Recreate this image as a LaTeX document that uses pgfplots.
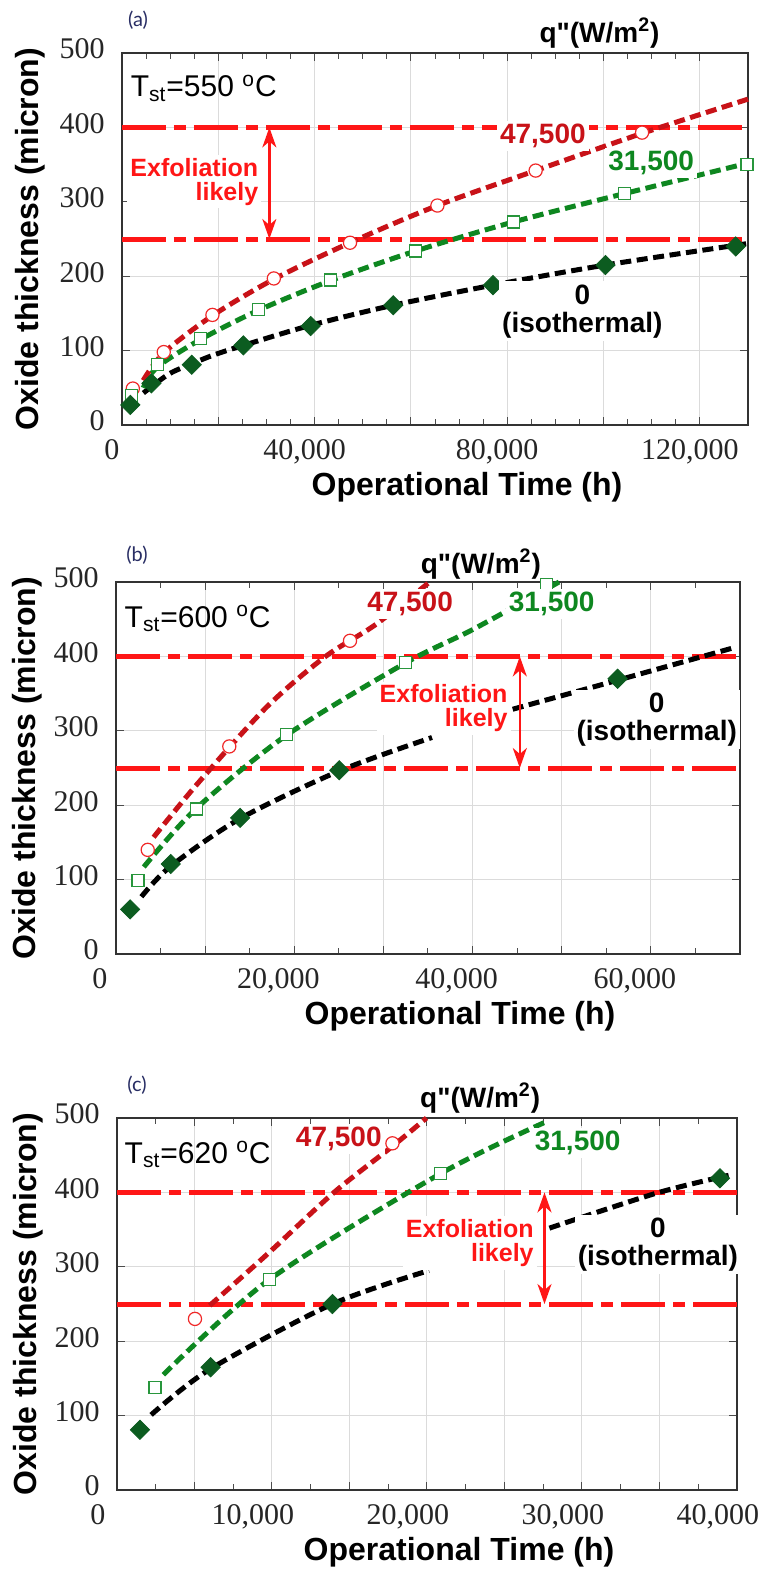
\documentclass[border=0pt]{standalone}
\usepackage{fontspec}
\setmainfont{Liberation Sans}
\newfontfamily\tickfont{Liberation Serif}
\newfontfamily\qfont{Liberation Sans}[Ligatures=TeXOff]
\newfontfamily\panelfont{Lato}
\usepackage{pgfplots}
\pgfplotsset{compat=1.18}
\usetikzlibrary{arrows.meta}

\definecolor{hotred}{RGB}{200,18,24}
\definecolor{circred}{RGB}{240,40,40}
\definecolor{midgreen}{RGB}{14,135,32}
\definecolor{sqgreen}{RGB}{40,150,60}
\definecolor{diamondgreen}{RGB}{12,92,32}
\definecolor{exred}{RGB}{255,22,22}
\definecolor{panelblue}{RGB}{40,45,100}

\pgfplotsset{
  oxide/.style={
    scale only axis, clip=false,
    scaled x ticks=false, scaled y ticks=false,
    ymin=0, ymax=500, ytick={0,100,...,500},
    yticklabels={0,100,200,300,400,500},
    grid=major, major grid style={gray!28, line width=0.5pt},
    axis line style={line width=0.9pt, black!80},
    tick align=inside, major tick length=4pt, minor tick length=3pt,
    every tick/.style={black!70, line width=0.5pt},
    ticklabel style={font=\tickfont\fontsize{15}{16}\selectfont, text=black!85, inner sep=0pt},
    yticklabel style={anchor=east, xshift=-8.5pt, yshift=2pt},
    xlabel={Operational Time (h)},
    ylabel={Oxide thickness (micron)},
    label style={font=\bfseries\fontsize{16}{18}\selectfont},
    xlabel style={at={([xshift=16pt,yshift=-31pt]axis description cs:0.5,0)}, anchor=center},
  },
  fit/.style={line width=2.5pt, dash pattern=on 5.5pt off 2.8pt, smooth, tension=0.5, mark=none},
  exfol/.style={exred, line width=2.5pt, dash pattern=on 22pt off 4pt on 6pt off 4pt, mark=none},
  circ/.style={only marks, mark=*, mark size=3.3pt,
    mark options={draw=circred, fill=white, line width=0.6pt}},
  sq/.style={only marks, mark=square*, mark size=3pt,
    mark options={draw=sqgreen, fill=white, line width=0.6pt}},
  dia/.style={only marks, mark=square*, mark size=3.4pt,
    mark options={rotate=45, draw=diamondgreen, fill=diamondgreen}},
}
\tikzset{
  flux/.style={font=\bfseries\fontsize{14}{14}\selectfont, fill=white, inner sep=1.5pt},
  iso/.style={font=\bfseries\fontsize{14}{14}\selectfont, fill=white, inner sep=1.5pt, align=center},
  exlab/.style={font=\bfseries\fontsize{12.5}{12}\selectfont, text=exred, fill=white, inner sep=1.5pt, align=right, anchor=east},
  tst/.style={font=\fontsize{15}{15}\selectfont, anchor=base west, inner sep=0pt},
  qlab/.style={font=\qfont\bfseries\fontsize{14}{14}\selectfont, anchor=center},
  plab/.style={font=\panelfont\fontsize{10}{10}\selectfont, text=panelblue, anchor=center},
  exarrow/.style={exred, line width=1.2pt, {Stealth[length=10pt,width=7pt,inset=3pt]}-{Stealth[length=10pt,width=7pt,inset=3pt]}},
}

\begin{document}
\begin{tikzpicture}
\fill[white] (0,0) rectangle (383pt,-788pt);
\useasboundingbox (0,0) rectangle (383pt,-788pt);

% ---------------- (a) T_st = 550 C ----------------
\begin{axis}[oxide, at={(61pt,-212.5pt)}, anchor=south west,
  width=313pt, height=186pt,
  xmin=0, xmax=130000, xtick={0,20000,...,120000},
  xticklabels={0,,{40,000},,{80,000},,{120,000}},
  minor x tick num=3,
  xticklabel style={anchor=north, yshift=-7pt, xshift=-5pt},
  ylabel style={at={([xshift=-46pt]axis description cs:0,0.5)}, anchor=center},
]
\addplot[exfol] coordinates {(0,400) (130000,400)};
\addplot[exfol] coordinates {(0,250) (130000,250)};
\addplot[fit, black] coordinates {(4440,43) (9600,68) (14000,81) (19000,94) (25200,107) (39180,134) (56330,161) (77040,188) (100400,215) (130000,244)};
\addplot[fit, midgreen] coordinates {(4400,50) (7350,78) (16330,115) (28270,154) (43270,194) (61020,234) (81330,273) (104290,311) (130000,352)};
\addplot[fit, hotred] coordinates {(4400,60) (8670,97) (18780,147) (31530,196) (47350,245) (65500,295) (85900,342) (108000,392) (130000,438)};
\addplot[circ] coordinates {(2245,49) (8670,98) (18780,148) (31530,197) (47350,245) (65500,295) (85900,342) (108000,393)};
\addplot[sq] coordinates {(2040,40) (7350,81) (16330,116) (28270,155) (43270,195) (61020,234) (81330,273) (104290,311) (129800,350)};
\addplot[dia] coordinates {(1735,27) (6120,56) (14490,81) (25200,107) (39180,133) (56330,161) (77040,188) (100400,215) (127450,240)};
\coordinate (a-r) at (axis cs:87400,389);
\coordinate (a-g) at (axis cs:109900,352);
\coordinate (a-k) at (axis cs:95600,153);
\coordinate (a-ex) at (axis cs:29000,327);
\coordinate (a-up) at (axis cs:30600,400);
\coordinate (a-lo) at (axis cs:30600,250);
\coordinate (a-t) at (axis cs:1735,441);
\coordinate (a-q) at (axis cs:99170,500);
\end{axis}
\node[flux, text=hotred] at (a-r) {47,500};
\node[flux, text=midgreen] at (a-g) {31,500};
\node[iso] at (a-k) {0\\(isothermal)};
\node[exlab] at (a-ex) {Exfoliation\\likely};
\draw[exarrow] (a-up) -- (a-lo);
\node[tst] at (a-t) {T\textsubscript{st}=550 \textsuperscript{o}C};
\node[qlab, yshift=10pt] at (a-q) {q"(W/m\textsuperscript{2})};
\node[plab] at (69pt,-10pt) {(a)};

% ---------------- (b) T_st = 600 C ----------------
\begin{axis}[oxide, at={(58pt,-477pt)}, anchor=south west,
  width=312pt, height=186pt,
  xmin=0, xmax=70000, xtick={0,10000,...,70000},
  xticklabels={0,,{20,000},,{40,000},,{60,000},},
  minor x tick num=1,
  xticklabel style={anchor=north, yshift=-7pt, xshift=-8pt},
  ylabel style={at={([xshift=-44.5pt]axis description cs:0,0.5)}, anchor=center},
]
\addplot[exfol] coordinates {(0,400) (70000,400)};
\addplot[exfol] coordinates {(0,250) (70000,250)};
\addplot[fit, black] coordinates {(2850,77) (6140,118) (13920,182) (25040,246) (35450,291)};
\addplot[fit, black] coordinates {(44500,329) (56270,368) (69400,412)};
\addplot[fit, midgreen] coordinates {(3120,117) (9040,196) (19120,294) (32440,391) (40000,436) (49700,500)};
\addplot[fit, hotred] coordinates {(4220,157) (9150,229) (16820,331) (23400,399) (29150,443) (35180,500)};
\addplot[circ] coordinates {(3560,140) (12710,279) (26250,421)};
\addplot[sq] coordinates {(2470,99) (9040,195) (19120,295) (32440,392) (48330,497)};
\addplot[dia] coordinates {(1590,60) (6140,121) (13920,183) (25040,247) (56270,370)};
\coordinate (b-r) at (axis cs:32990,471);
\coordinate (b-g) at (axis cs:48880,471);
\coordinate (b-k) at (axis cs:60660,315);
\coordinate (b-ex) at (axis cs:44300,330);
\coordinate (b-up) at (axis cs:45300,400);
\coordinate (b-lo) at (axis cs:45300,250);
\coordinate (b-t) at (axis cs:930,439);
\coordinate (b-q) at (axis cs:40930,500);
\end{axis}
\node[flux, text=hotred] at (b-r) {47,500};
\node[flux, text=midgreen] at (b-g) {31,500};
\node[iso] at (b-k) {0\\(isothermal)};
\node[exlab] at (b-ex) {Exfoliation\\likely};
\draw[exarrow] (b-up) -- (b-lo);
\node[tst] at (b-t) {T\textsubscript{st}=600 \textsuperscript{o}C};
\node[qlab, yshift=9pt] at (b-q) {q"(W/m\textsuperscript{2})};
\node[plab] at (68.5pt,-277.5pt) {(b)};

% ---------------- (c) T_st = 620 C ----------------
\begin{axis}[oxide, at={(58.5pt,-745pt)}, anchor=south west,
  width=310pt, height=186pt,
  xmin=0, xmax=40000, xtick={0,5000,...,40000},
  xticklabels={0,,{10,000},,{20,000},,{30,000},,{40,000}},
  minor x tick num=1,
  xticklabel style={anchor=north, yshift=-7pt, xshift=-9.5pt},
  ylabel style={at={([xshift=-44.5pt]axis description cs:0,0.5)}, anchor=center},
]
\addplot[exfol] coordinates {(0,400) (40000,400)};
\addplot[exfol] coordinates {(0,250) (40000,250)};
\addplot[fit, black] coordinates {(2200,101) (6040,163) (13900,250) (20130,295)};
\addplot[fit, black] coordinates {(27900,352) (34800,399) (39460,423)};
\addplot[fit, midgreen] coordinates {(2990,155) (9840,283) (20850,425) (27580,494)};
\addplot[fit, hotred] coordinates {(5980,248) (9750,318) (14000,400) (17770,462) (19970,500)};
\addplot[circ] coordinates {(5030,230) (17770,466)};
\addplot[sq] coordinates {(2450,138) (9840,283) (20850,425)};
\addplot[dia] coordinates {(1480,81) (6040,165) (13900,250) (38900,419)};
\coordinate (c-r) at (axis cs:14310,472);
\coordinate (c-g) at (axis cs:29720,467);
\coordinate (c-k) at (axis cs:34900,330);
\coordinate (c-ex) at (axis cs:27100,332);
\coordinate (c-up) at (axis cs:27580,400);
\coordinate (c-lo) at (axis cs:27580,250);
\coordinate (c-t) at (axis cs:472,439);
\coordinate (c-q) at (axis cs:23430,500);
\end{axis}
\node[flux, text=hotred] at (c-r) {47,500};
\node[flux, text=midgreen] at (c-g) {31,500};
\node[iso] at (c-k) {0\\(isothermal)};
\node[exlab] at (c-ex) {Exfoliation\\likely};
\draw[exarrow] (c-up) -- (c-lo);
\node[tst] at (c-t) {T\textsubscript{st}=620 \textsuperscript{o}C};
\node[qlab, yshift=10pt] at (c-q) {q"(W/m\textsuperscript{2})};
\node[plab] at (68.5pt,-542.5pt) {(c)};
\end{tikzpicture}
\end{document}
